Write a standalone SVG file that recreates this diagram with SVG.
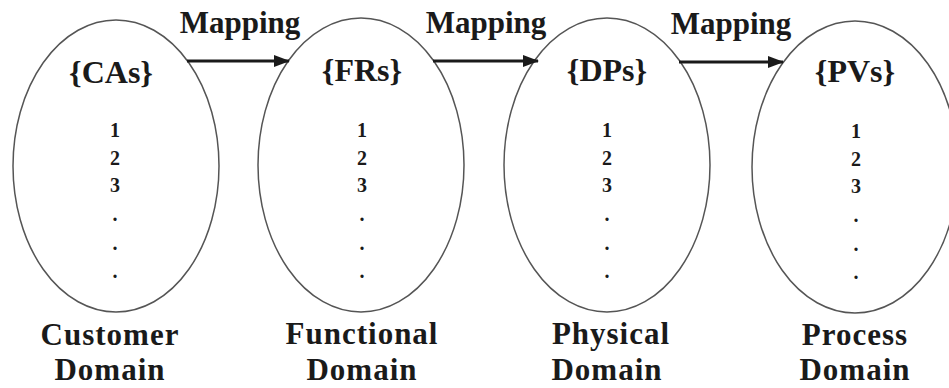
<svg xmlns="http://www.w3.org/2000/svg" width="949" height="388" viewBox="0 0 949 388">
<style>
.dom{fill:none;stroke:#555;stroke-width:1.5}
.t{font-family:"Liberation Serif","Times New Roman",serif;font-weight:bold;fill:#1a1a1a;text-anchor:middle}
.set{font-size:32px}
.num{font-size:20px}
.lbl{font-size:31px;letter-spacing:1px}
.map{font-size:31px}
.arr{stroke:#1a1a1a;stroke-width:3;fill:none;marker-end:url(#ah)}
</style>
<defs>
<marker id="ah" viewBox="0 0 16 12" refX="15" refY="6" markerWidth="16" markerHeight="12" markerUnits="userSpaceOnUse" orient="auto">
<path d="M0,0 L16,6 L0,12 z" fill="#1a1a1a"/>
</marker>
</defs>
<rect width="949" height="388" fill="#fff"/>
<g id="customer">
<ellipse class="dom" cx="116" cy="166" rx="103" ry="146"/>
<text class="t set" x="111" y="83">{CAs}</text>
<text class="t num" x="115" y="137">1</text>
<text class="t num" x="115" y="165">2</text>
<text class="t num" x="115" y="192">3</text>
<text class="t num" x="115" y="221">.</text>
<text class="t num" x="115" y="250">.</text>
<text class="t num" x="115" y="278">.</text>
<text class="t lbl" x="110" y="345">Customer</text>
<text class="t lbl" x="110" y="380">Domain</text>
</g>
<g id="functional">
<ellipse class="dom" cx="361" cy="165" rx="103" ry="147"/>
<text class="t set" x="362" y="81">{FRs}</text>
<text class="t num" x="362" y="137">1</text>
<text class="t num" x="362" y="165">2</text>
<text class="t num" x="362" y="192">3</text>
<text class="t num" x="362" y="221">.</text>
<text class="t num" x="362" y="250">.</text>
<text class="t num" x="362" y="278">.</text>
<text class="t lbl" x="362" y="344">Functional</text>
<text class="t lbl" x="362" y="380">Domain</text>
</g>
<g id="physical">
<ellipse class="dom" cx="607" cy="165" rx="103" ry="147"/>
<text class="t set" x="607" y="81">{DPs}</text>
<text class="t num" x="607" y="137">1</text>
<text class="t num" x="607" y="165">2</text>
<text class="t num" x="607" y="192">3</text>
<text class="t num" x="607" y="221">.</text>
<text class="t num" x="607" y="250">.</text>
<text class="t num" x="607" y="278">.</text>
<text class="t lbl" x="611" y="344">Physical</text>
<text class="t lbl" x="607" y="380">Domain</text>
</g>
<g id="process">
<ellipse class="dom" cx="855" cy="167" rx="103" ry="146"/>
<text class="t set" x="855" y="82">{PVs}</text>
<text class="t num" x="856" y="138">1</text>
<text class="t num" x="856" y="166">2</text>
<text class="t num" x="856" y="193">3</text>
<text class="t num" x="856" y="222">.</text>
<text class="t num" x="856" y="251">.</text>
<text class="t num" x="856" y="279">.</text>
<text class="t lbl" x="855" y="345">Process</text>
<text class="t lbl" x="855" y="380">Domain</text>
</g>
<g id="connectors">
<line class="arr" x1="187" y1="61" x2="289" y2="61"/>
<line class="arr" x1="433" y1="61" x2="538" y2="61"/>
<line class="arr" x1="679" y1="62" x2="783" y2="62"/>
<text class="t map" x="240" y="33">Mapping</text>
<text class="t map" x="486" y="33">Mapping</text>
<text class="t map" x="731" y="34">Mapping</text>
</g>
</svg>
